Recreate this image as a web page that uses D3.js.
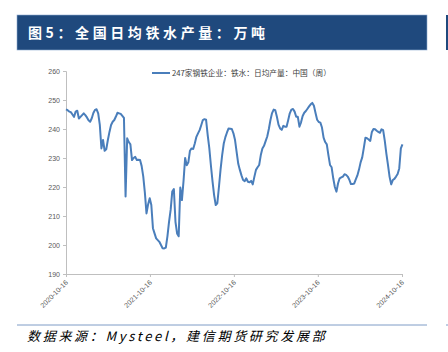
<!DOCTYPE html>
<html>
<head>
<meta charset="utf-8">
<script src="https://cdn.jsdelivr.net/npm/d3@7"></script>
<style>
  body { margin: 0; background: #fff; }
  svg { display: block; }
</style>
</head>
<body>
<div id="chart"></div>
<script>
// weekly series, first week 2020-10-16
var startDate = "2020-10-16";
var values = [
  246.8, 246.5, 246.0, 245.8, 245.0, 244.2, 246.0, 246.3, 243.6, 244.2,
  244.8, 245.4, 244.8, 244.0, 243.0, 242.5, 243.7, 245.5, 246.6, 246.8,
  245.4, 241.4, 233.3, 236.2, 232.5, 233.0, 236.2, 239.0, 241.4, 242.5,
  243.1, 244.3, 245.6, 245.4, 245.2, 244.5, 243.8, 216.7, 236.8, 235.5,
  234.7, 229.3, 230.0, 230.4, 229.3, 229.4, 229.3, 227.2, 223.6, 218.0,
  210.9, 214.0, 216.1, 213.8, 205.8, 204.0, 202.3, 201.7, 201.1, 200.0,
  198.9, 198.8, 199.1, 203.0, 208.0, 212.1, 218.4, 219.3, 208.0, 204.0,
  203.0, 219.8, 215.5, 222.0, 230.0, 227.5, 228.5, 232.5, 233.3, 233.1,
  235.0, 237.3, 238.5, 239.6, 241.3, 243.1, 243.4, 243.2, 238.0, 233.5,
  227.5, 222.0, 217.2, 213.8, 214.4, 220.0, 226.0, 231.0, 235.0, 237.2,
  238.8, 240.2, 240.1, 240.0, 238.5, 236.2, 232.0, 228.0, 225.9, 224.0,
  222.4, 222.0, 223.0, 221.8, 221.6, 222.1, 220.9, 223.5, 225.9, 226.8,
  227.6, 231.0, 233.3, 234.2, 235.8, 237.4, 240.0, 243.1, 245.5, 246.7,
  246.5, 244.2, 241.5, 240.2, 239.7, 241.1, 240.8, 240.8, 243.0, 245.4,
  246.7, 246.9, 246.0, 244.2, 244.2, 240.8, 242.3, 244.5, 245.6, 246.2,
  247.0, 247.8, 248.5, 249.0, 248.0, 245.5, 243.2, 242.4, 242.2, 240.5,
  237.0, 235.5, 234.7, 231.0, 227.6, 226.8, 223.0, 220.0, 218.4, 221.3,
  223.0, 223.3, 223.6, 224.4, 224.2, 223.6, 222.5, 221.0, 221.0, 221.2,
  222.6, 224.0, 226.0, 228.5, 230.2, 233.5, 237.0, 236.8, 236.4, 235.9,
  239.0, 240.0, 239.9, 239.4, 239.0, 238.7, 239.9, 239.6, 236.0, 231.5,
  227.6, 223.5, 220.9, 222.4, 222.8, 223.6, 224.5, 226.4, 233.3, 234.7
];
var xTicks = ["2020-10-16", "2021-10-16", "2022-10-16", "2023-10-16", "2024-10-16"];
var yTicks = [190, 200, 210, 220, 230, 240, 250, 260];
var seriesName = "247家钢铁企业：铁水：日均产量：中国（周）";
var title = "图5：全国日均铁水产量：万吨";
var source = "数据来源：Mysteel，建信期货研究发展部";

var W = 448, H = 352;
var parse = d3.timeParse("%Y-%m-%d");
var start = parse(startDate);
var data = values.map(function(v, i) {
  return { date: d3.timeDay.offset(start, 7 * i), value: v };
});

var svg = d3.select("#chart").append("svg")
  .attr("width", W)
  .attr("height", H);

// title bar
svg.append("rect")
  .attr("x", 17).attr("y", 15).attr("width", 410).attr("height", 35)
  .attr("fill", "#1f497d")
  .attr("stroke", "#8eaad0").attr("stroke-width", 0.6);
svg.append("rect")
  .attr("x", 446).attr("y", 15).attr("width", 4).attr("height", 35)
  .attr("fill", "#1f497d");
svg.append("text")
  .attr("x", 28).attr("y", 38)
  .attr("fill", "#fff")
  .style("font-family", "'Noto Sans CJK SC', sans-serif")
  .style("font-weight", "bold")
  .style("font-size", "14px")
  .style("letter-spacing", "3.6px")
  .text(title);

// plot area
var x = d3.scaleTime()
  .domain([parse(xTicks[0]), parse(xTicks[xTicks.length - 1])])
  .range([66, 402]);
var y = d3.scaleLinear().domain([190, 260]).range([274, 71]);

var yAxis = svg.append("g")
  .attr("transform", "translate(66,0)")
  .call(d3.axisLeft(y).tickValues(yTicks).tickSize(3).tickPadding(3));
var xAxis = svg.append("g")
  .attr("transform", "translate(0,274)")
  .call(d3.axisBottom(x).tickValues(xTicks.map(parse)).tickSize(3)
    .tickFormat(d3.timeFormat("%Y-%m-%d")));

[yAxis, xAxis].forEach(function(g) {
  g.select(".domain").attr("stroke", "#bfbfbf");
  g.selectAll(".tick line").attr("stroke", "#bfbfbf");
  g.selectAll("text")
    .attr("fill", "#595959")
    .style("font-family", "'Liberation Sans', Arial, sans-serif")
    .style("font-size", "7px");
});
xAxis.selectAll("text")
  .attr("text-anchor", "end")
  .attr("dy", null)
  .attr("y", 0)
  .attr("transform", "translate(2,9) rotate(-45)");

var line = d3.line()
  .x(function(d) { return x(d.date); })
  .y(function(d) { return y(d.value); });

svg.append("path")
  .datum(data)
  .attr("d", line)
  .attr("fill", "none")
  .attr("stroke", "#4a7ebb")
  .attr("stroke-width", 2)
  .attr("stroke-linejoin", "round");

// legend
svg.append("line")
  .attr("x1", 152).attr("x2", 170).attr("y1", 73).attr("y2", 73)
  .attr("stroke", "#4a7ebb").attr("stroke-width", 2);
svg.append("text")
  .attr("x", 172).attr("y", 75.5)
  .attr("fill", "#404040")
  .style("font-family", "'Noto Sans CJK SC', sans-serif")
  .style("font-size", "7.7px")
  .text(seriesName);

// source line and note
svg.append("line")
  .attr("x1", 17).attr("x2", 427).attr("y1", 325).attr("y2", 325)
  .attr("stroke", "#7f9cc6").attr("stroke-width", 1);
svg.append("line")
  .attr("x1", 446).attr("x2", 448).attr("y1", 325).attr("y2", 325)
  .attr("stroke", "#7f9cc6").attr("stroke-width", 1);
svg.append("text")
  .attr("x", 27).attr("y", 341)
  .attr("fill", "#000")
  .style("font-family", "'Noto Sans CJK SC', sans-serif")
  .style("font-style", "italic")
  .style("font-size", "13px")
  .style("letter-spacing", "2.7px")
  .text(source);
</script>
</body>
</html>
